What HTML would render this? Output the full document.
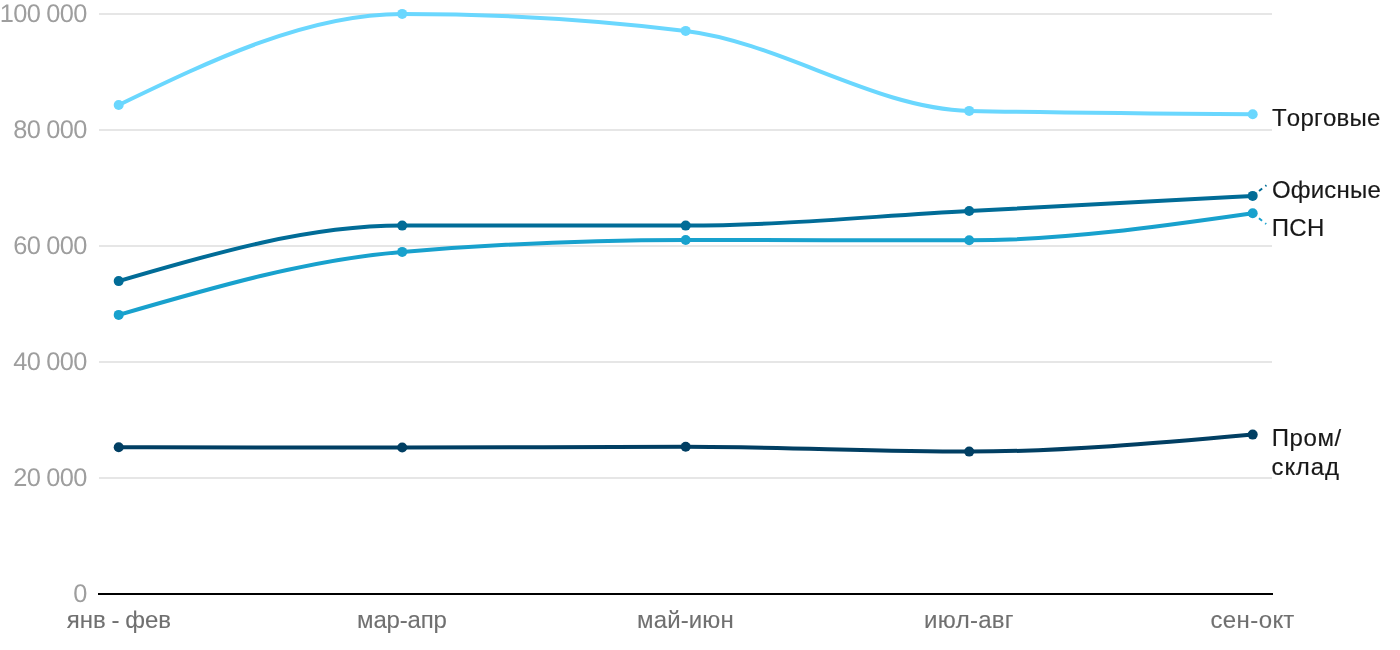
<!DOCTYPE html>
<html lang="ru"><head><meta charset="utf-8"><title>chart</title>
<style>
html,body{margin:0;padding:0;background:#fff;}
body{width:1400px;height:650px;overflow:hidden;position:relative;font-family:"Liberation Sans",sans-serif;}
svg{position:absolute;left:0;top:0;display:block;}
text{font-family:"Liberation Sans",sans-serif;font-size:24px;font-kerning:none;}
.yl{text-rendering:geometricPrecision;fill:#9e9e9e;text-anchor:end;font-size:25.4px;letter-spacing:-0.55px;word-spacing:-0.8px;}
.xl{fill:#707070;stroke:#707070;stroke-width:0.1px;text-anchor:start;}
.sl{fill:#181818;stroke:#181818;stroke-width:0.15px;text-anchor:start;}
</style></head><body>
<svg width="1400" height="650" viewBox="0 0 1400 650">
<rect x="99" y="13" width="1173" height="2" fill="#e6e6e6"/>
<rect x="99" y="129" width="1173" height="2" fill="#e6e6e6"/>
<rect x="99" y="245" width="1173" height="2" fill="#e6e6e6"/>
<rect x="99" y="361" width="1173" height="2" fill="#e6e6e6"/>
<rect x="99" y="477" width="1173" height="2" fill="#e6e6e6"/>
<rect x="98" y="593" width="1175" height="2" fill="#000"/>
<text class="yl" x="86.85" y="22.4">100 000</text>
<text class="yl" x="86.85" y="138.4">80 000</text>
<text class="yl" x="86.85" y="254.4">60 000</text>
<text class="yl" x="86.85" y="370.4">40 000</text>
<text class="yl" x="86.85" y="486.4">20 000</text>
<text class="yl" x="86.85" y="602.4">0</text>
<text class="xl" x="66.73" y="628" style="letter-spacing:0.024px;word-spacing:-1px;">янв - фев</text>
<text class="xl" x="357.06" y="628" style="letter-spacing:-0.162px;">мар-апр</text>
<text class="xl" x="637.06" y="628" style="letter-spacing:0.128px;">май-июн</text>
<text class="xl" x="924.06" y="628" style="letter-spacing:0.207px;">июл-авг</text>
<text class="xl" x="1210.40" y="628" style="letter-spacing:0.417px;">сен-окт</text>
<path d="M118.70,105.00C213.20,59.45,307.70,13.90,402.20,13.90C496.70,13.90,591.20,19.57,685.70,30.90C780.20,42.23,874.70,108.70,969.20,110.90C1063.70,113.10,1158.20,113.65,1252.70,114.20" fill="none" stroke="#6ad7fe" stroke-width="4" stroke-linecap="round" stroke-linejoin="round"/>
<path d="M118.70,281.10C213.20,253.35,307.70,225.60,402.20,225.60C496.70,225.60,591.20,225.60,685.70,225.60C780.20,225.60,874.70,215.95,969.20,211.00C1063.70,206.05,1158.20,200.97,1252.70,195.90" fill="none" stroke="#016c97" stroke-width="4" stroke-linecap="round" stroke-linejoin="round"/>
<path d="M118.70,314.90C213.20,287.37,307.70,259.83,402.20,251.90C496.70,243.97,591.20,240.00,685.70,240.00C780.20,240.00,874.70,240.30,969.20,240.30C1063.70,240.30,1158.20,226.75,1252.70,213.20" fill="none" stroke="#18a1cd" stroke-width="4" stroke-linecap="round" stroke-linejoin="round"/>
<path d="M118.70,447.30C213.20,447.40,307.70,447.50,402.20,447.50C496.70,447.50,591.20,446.80,685.70,446.80C780.20,446.80,874.70,451.60,969.20,451.60C1063.70,451.60,1158.20,443.10,1252.70,434.60" fill="none" stroke="#013f63" stroke-width="4" stroke-linecap="round" stroke-linejoin="round"/>
<path d="M1252.7,195.9L1266.4,185.3" stroke="#016c97" stroke-width="2" stroke-dasharray="4,4" fill="none"/>
<path d="M1252.7,213.2L1266.2,224.0" stroke="#18a1cd" stroke-width="2" stroke-dasharray="4,4" fill="none"/>
<circle cx="118.7" cy="105.0" r="5" fill="#6ad7fe"/>
<circle cx="402.2" cy="13.9" r="5" fill="#6ad7fe"/>
<circle cx="685.7" cy="30.9" r="5" fill="#6ad7fe"/>
<circle cx="969.2" cy="110.9" r="5" fill="#6ad7fe"/>
<circle cx="1252.7" cy="114.2" r="5" fill="#6ad7fe"/>
<circle cx="118.7" cy="281.1" r="5" fill="#016c97"/>
<circle cx="402.2" cy="225.6" r="5" fill="#016c97"/>
<circle cx="685.7" cy="225.6" r="5" fill="#016c97"/>
<circle cx="969.2" cy="211.0" r="5" fill="#016c97"/>
<circle cx="1252.7" cy="195.9" r="5" fill="#016c97"/>
<circle cx="118.7" cy="314.9" r="5" fill="#18a1cd"/>
<circle cx="402.2" cy="251.9" r="5" fill="#18a1cd"/>
<circle cx="685.7" cy="240.0" r="5" fill="#18a1cd"/>
<circle cx="969.2" cy="240.3" r="5" fill="#18a1cd"/>
<circle cx="1252.7" cy="213.2" r="5" fill="#18a1cd"/>
<circle cx="118.7" cy="447.3" r="5" fill="#013f63"/>
<circle cx="402.2" cy="447.5" r="5" fill="#013f63"/>
<circle cx="685.7" cy="446.8" r="5" fill="#013f63"/>
<circle cx="969.2" cy="451.6" r="5" fill="#013f63"/>
<circle cx="1252.7" cy="434.6" r="5" fill="#013f63"/>
<text class="sl" x="1271.94" y="126.0" style="letter-spacing:0.230px">Торговые</text>
<text class="sl" x="1271.92" y="198.0" style="letter-spacing:0.210px">Офисные</text>
<text class="sl" x="1271.67" y="236.0" style="letter-spacing:0.420px">ПСН</text>
<text class="sl" x="1271.64" y="446.0" style="letter-spacing:0.618px">Пром/</text>
<text class="sl" x="1271.60" y="475.0" style="letter-spacing:0.882px">склад</text>
</svg></body></html>
